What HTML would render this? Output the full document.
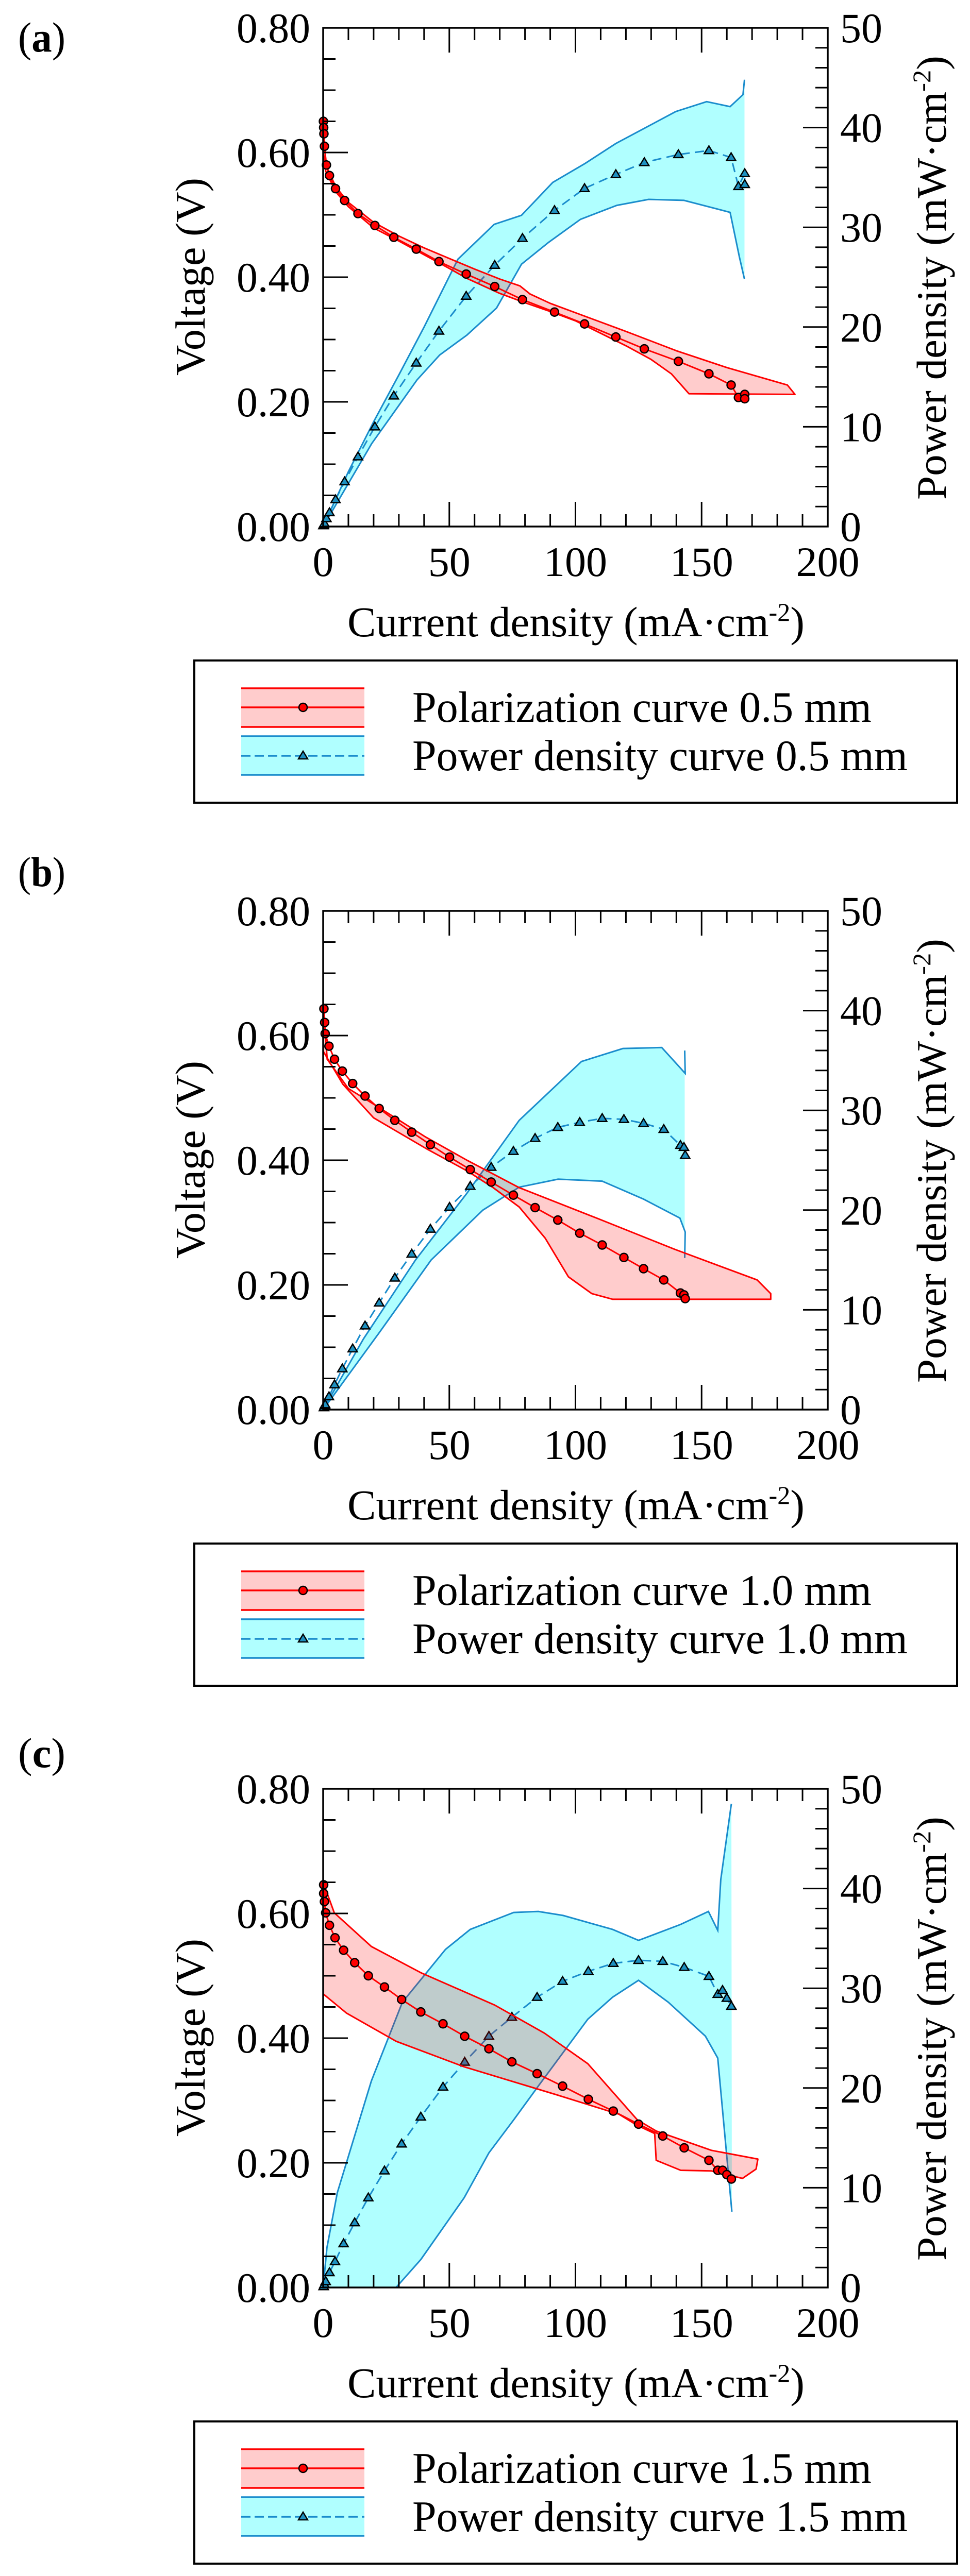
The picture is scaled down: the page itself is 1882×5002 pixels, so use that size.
<!DOCTYPE html>
<html><head><meta charset="utf-8"><style>
html,body{margin:0;padding:0;background:#fff;width:1882px;height:5002px;overflow:hidden;}
svg{display:block;position:absolute;left:0;top:0;}
</style></head><body>
<svg id="fig" xmlns="http://www.w3.org/2000/svg" width="1882" height="5002" viewBox="0 0 1882 5002"></svg>
<script>
// ---------- DATA (current mA/cm2, voltage V, power mW/cm2) ----------
const currentA=[0.1,0.2,0.3,0.5,1.3,2.5,4.9,8.5,13.8,20.5,28,36.9,45.9,56.7,68,79,91.7,103.6,116,127.3,140.8,152.9,161.7,164.6,167.1,167.1];
const voltageA=[0.65,0.64,0.63,0.61,0.58,0.563,0.542,0.523,0.502,0.483,0.464,0.445,0.425,0.405,0.385,0.364,0.344,0.325,0.304,0.285,0.265,0.245,0.227,0.207,0.212,0.205];
const powerA=[0.1,0.1,0.2,0.3,0.8,1.4,2.7,4.5,7.0,10.0,13.1,16.4,19.6,23.1,26.2,28.9,31.7,33.9,35.3,36.5,37.3,37.7,37.0,34.1,35.4,34.3];
const polUpperA=[[0,0.66],[1,0.58],[5,0.545],[10,0.52],[20,0.488],[30,0.466],[40,0.447],[50,0.43],[60,0.413],[70,0.397],[78,0.386],[82,0.373],[90,0.358],[100,0.343],[120,0.313],[140,0.282],[160,0.255],[184,0.227],[187,0.212]];
const polLowerA=[[0,0.6],[1,0.57],[5,0.537],[10,0.513],[20,0.479],[30,0.458],[40,0.436],[50,0.414],[57,0.398],[70,0.374],[80,0.359],[90,0.345],[100,0.33],[110,0.31],[120,0.29],[130,0.268],[138,0.245],[145,0.213],[187,0.212]];
const powUpperA=[[0,0],[10,5.5],[20,10.5],[30,15.2],[40,20],[53.4,26.8],[67.8,30.3],[78.6,31.2],[91,34.5],[103.8,36.4],[116,38.4],[139.7,41.6],[152,42.6],[161.3,42.1],[166.4,43.3],[167,44.8]];
const powLowerA=[[0,0],[19.2,8.3],[37.2,14.7],[46.2,17.2],[57,19.2],[68.7,21.9],[78.6,26.3],[89.4,28.5],[102,30.8],[116.4,32.2],[129,32.8],[143,32.7],[161.3,31.5],[165,27],[167,24.8]];

const currentB=[0.3,0.6,0.8,2.3,4.5,7.6,11.7,16.6,22.2,28.4,35.1,42.5,50.1,58.3,66.6,75.4,84,93,101.7,110.6,119.2,127,135,141.6,143,143.5];
const voltageB=[0.643,0.621,0.603,0.583,0.562,0.543,0.523,0.503,0.483,0.464,0.445,0.425,0.405,0.385,0.365,0.344,0.324,0.304,0.283,0.264,0.244,0.226,0.208,0.187,0.184,0.178];
const powerB=[0.2,0.4,0.5,1.3,2.5,4.1,6.1,8.4,10.7,13.2,15.6,18.1,20.3,22.4,24.3,25.9,27.2,28.3,28.8,29.2,29.1,28.7,28.1,26.5,26.3,25.5];
const polUpperB=[[0,0.65],[1.6,0.562],[10,0.515],[20,0.49],[40.7,0.437],[57,0.4],[77.7,0.356],[108.5,0.307],[139.4,0.257],[172,0.208],[177.4,0.186]];
const polLowerB=[[0,0.575],[7.8,0.522],[20,0.468],[40.7,0.419],[57,0.383],[67.4,0.356],[77.7,0.325],[88,0.275],[97.2,0.213],[106.5,0.186],[114.7,0.177],[177.4,0.177]];
const powUpperB=[[0,0],[16,7.1],[36.6,15],[57,21.7],[77.7,29],[102.4,34.9],[118.8,36.2],[134.2,36.3],[141.4,34.3],[143.5,33.7],[143.3,36]];
const powLowerB=[[0,0],[22.2,7.7],[42.8,15],[63.3,20],[77.7,22.3],[93.1,23.1],[110.6,22.9],[127,21.1],[141.4,19.2],[143.5,17.8],[143.3,15.2]];

const currentC=[0.2,0.2,0.5,1,2.5,4.7,8.1,12.5,17.9,24.3,31.1,38.7,47.5,56.1,65.7,74.8,84.8,94.9,105.1,115,125,134.6,143.1,152.9,156.4,158.3,160,161.8];
const voltageC=[0.646,0.632,0.619,0.601,0.581,0.561,0.541,0.521,0.5,0.482,0.462,0.442,0.423,0.403,0.383,0.362,0.343,0.323,0.302,0.283,0.262,0.243,0.224,0.204,0.188,0.188,0.181,0.174];
const powerC=[0.1,0.1,0.3,0.6,1.5,2.6,4.4,6.5,9.0,11.7,14.4,17.1,20.1,22.6,25.2,27.1,29.1,30.7,31.7,32.5,32.8,32.7,32.1,31.2,29.4,29.8,29.0,28.2];
const polUpperC=[[0,0.65],[4.4,0.601],[19.1,0.547],[38.7,0.505],[68,0.453],[87.7,0.408],[104.9,0.359],[124.5,0.269],[132,0.251],[153.9,0.22],[172.3,0.206],[171.6,0.19]];
const polLowerC=[[0,0.471],[9.3,0.44],[28.9,0.395],[55.9,0.354],[92.6,0.309],[117.2,0.278],[124.5,0.26],[131.4,0.247],[132,0.204],[141.7,0.188],[153.9,0.187],[166.2,0.175]];
const powUpperC=[[0,0],[1.5,4],[5.6,9.5],[19.1,20.7],[31.4,28.6],[48.5,33.9],[58.3,35.9],[75.5,37.6],[85.3,37.7],[95.1,37.3],[114.7,35.9],[125,34.8],[141.7,36.4],[152.7,37.7],[156.4,35.8],[157.6,40.9],[161.8,48.5]];
const powLowerC=[[0,0],[28.9,0],[38.7,2.8],[55.9,9],[65.7,13.5],[75.5,16.8],[85.3,20.2],[104.9,26.9],[114.7,29.1],[125,30.8],[136.8,28.6],[151.5,25.2],[156.4,23],[162,7.6]];

const xTicks=[0,50,100,150,200];
const vTickLabels=["0.00","0.20","0.40","0.60","0.80"];
const pTickLabels=["0","10","20","30","40","50"];
const panelLabels=["a","b","c"];
const thicknesses=["0.5","1.0","1.5"];

const NS="http://www.w3.org/2000/svg";
const FONT="'Liberation Serif','Times New Roman',serif";
const svg=document.getElementById('fig');
function mk(tag,attrs,parent){const e=document.createElementNS(NS,tag);for(const k in attrs)e.setAttribute(k,attrs[k]);(parent||svg).appendChild(e);return e;}
function numLen(s){let n=0;for(const ch of String(s))n+=(ch==='.')?20:41;return n;}
// text placed at (x,y) baseline, anchor, rotation; scaled horizontally to target width
function txt(parent,html,x,y,size,anchor,target,rot){
 const t=mk('text',{x:0,y:0,'text-anchor':anchor||'start',style:`font-family:${FONT};font-size:${size}px;fill:#000`},parent);
 t.innerHTML=html;
 let sx=1;
 try{const w=t.getBBox().width;if(target&&w>0)sx=target/w;}catch(e){}
 t.setAttribute('transform',`translate(${x},${y}) rotate(${rot||0}) scale(${sx},1)`);
 return t;
}

const panels=[
 {cur:currentA,vol:voltageA,pow:powerA,pu:polUpperA,pl:polLowerA,wu:powUpperA,wl:powLowerA,oy:0,labelY:100},
 {cur:currentB,vol:voltageB,pow:powerB,pu:polUpperB,pl:polLowerB,wu:powUpperB,wl:powLowerB,oy:1714,labelY:1720},
 {cur:currentC,vol:voltageC,pow:powerC,pu:polUpperC,pl:polLowerC,wu:powUpperC,wl:powLowerC,oy:3418,labelY:3430}
];
const L=627,R=1606,T0=54,B0=1022;
const SUP='<tspan dy="-30" style="font-size:50px">-2</tspan><tspan dy="30">)</tspan>';

panels.forEach((p,idx)=>{
 const T=T0+p.oy,B=B0+p.oy;
 const xs=i=>L+i*(R-L)/200;
 const yv=v=>B-v*(B-T)/0.8;
 const yp=w=>B-w*(B-T)/50;
 const g=mk('g',{});
 
 
 const lab=txt(g,'(<tspan style="font-weight:bold">'+panelLabels[idx]+'</tspan>)',35,p.labelY,82,'start',92,0);
 
 
 // power band
 const wpts=p.wu.map(d=>xs(d[0])+','+yp(d[1])).concat(p.wl.slice().reverse().map(d=>xs(d[0])+','+yp(d[1])));
 const wb=mk('polygon',{points:wpts.join(' '),fill:'#b0ffff',stroke:'none'},g);
 
 
 [p.wu,p.wl].forEach((arr,k)=>{
  const l=mk('polyline',{points:arr.map(d=>xs(d[0])+','+yp(d[1])).join(' '),fill:'none',stroke:'#1a8ccc','stroke-width':3},g);
  
  
 });
 const pl=mk('polyline',{points:p.cur.map((c,i)=>xs(c)+','+yp(p.pow[i])).join(' '),fill:'none',stroke:'#1a8ccc','stroke-width':3,'stroke-dasharray':'18,10'},g);
 
 
 p.cur.forEach((c,i)=>{
  const x=xs(c),y=yp(p.pow[i]);
  const t=mk('polygon',{points:`${x},${y-9} ${x-9},${y+6} ${x+9},${y+6}`,fill:'#1e90c0',stroke:'#000','stroke-width':2.5},g);
  
  
 });
 // polarization band
 const ppts=p.pu.map(d=>xs(d[0])+','+yv(d[1])).concat(p.pl.slice().reverse().map(d=>xs(d[0])+','+yv(d[1])));
 const pb=mk('polygon',{points:ppts.join(' '),fill:'rgba(255,0,0,0.2)',stroke:'#ff0000','stroke-width':3,'stroke-linejoin':'round'},g);
 
 
 const vl=mk('polyline',{points:p.cur.map((c,i)=>xs(c)+','+yv(p.vol[i])).join(' '),fill:'none',stroke:'#ff0000','stroke-width':3},g);
 
 
 p.cur.forEach((c,i)=>{
  const ci=mk('circle',{cx:xs(c),cy:yv(p.vol[i]),r:8,fill:'#ff0000',stroke:'#000','stroke-width':2.5},g);
  
  
 });
 // frame
 const fr=mk('rect',{x:L,y:T,width:R-L,height:B-T,fill:'none',stroke:'#000','stroke-width':3.5},g);
 
 
 let d='';
 for(let v=0;v<=200;v+=10){const x=xs(v),len=(v%50===0)?48:24;d+=`M${x},${B}v${-len}M${x},${T}v${len}`;}
 for(let k=0;k<=16;k++){const y=yv(k*0.05),len=(k%4===0)?48:24;d+=`M${L},${y}h${len}`;}
 for(let w=0;w<=50;w+=2){const y=yp(w),len=(w%10===0)?48:24;d+=`M${R},${y}h${-len}`;}
 const tk=mk('path',{d:d,stroke:'#000','stroke-width':3,fill:'none'},g);
 
 
 xTicks.forEach(v=>{const t=txt(g,String(v),xs(v),B+96,82,'middle',numLen(v),0);
  
  });
 vTickLabels.forEach((s,k)=>{const t=txt(g,s,602,yv(k*0.2)+28,82,'end',numLen(s),0);
  
  });
 pTickLabels.forEach((s,k)=>{const t=txt(g,s,1630,yp(k*10)+28,82,'start',numLen(s),0);
  
  });
 const xt=txt(g,'Current density (mA·cm'+SUP,674,B+213,83,'start',887,0);
 
 
 const yt=txt(g,'Voltage (V)',397,T+483,82,'middle',384,-90);
 
 
 const rt=txt(g,'Power density (mW·cm'+SUP,1835,T+916,82,'start',862,-90);
 
 
 // legend
 const LT=1282+p.oy;
 const lg=mk('g',{},g);
 
 
 const lb=mk('rect',{x:377,y:LT,width:1480,height:276,fill:'#fff',stroke:'#000','stroke-width':4},lg);
 
 
 const r1=mk('g',{},lg);
 
 
 mk('rect',{x:468,y:LT+54,width:239,height:75,fill:'#ffcccc'},r1);
 mk('path',{d:`M468,${LT+54}h239M468,${LT+91}h239M468,${LT+129}h239`,stroke:'#ff0000','stroke-width':3.5},r1);
 mk('circle',{cx:588,cy:LT+91,r:8,fill:'#ff0000',stroke:'#000','stroke-width':2.5},r1);
 txt(r1,'Polarization curve '+thicknesses[idx]+' mm',800,LT+119,85,'start',891,0);
 const r2=mk('g',{},lg);
 
 
 mk('rect',{x:468,y:LT+147,width:239,height:75,fill:'#b0ffff'},r2);
 mk('path',{d:`M468,${LT+147}h239M468,${LT+222}h239`,stroke:'#1a8ccc','stroke-width':3.5},r2);
 mk('path',{d:`M468,${LT+185}h239`,stroke:'#1a8ccc','stroke-width':3.5,'stroke-dasharray':'18,8'},r2);
 mk('polygon',{points:`588,${LT+176} 579,${LT+191} 597,${LT+191}`,fill:'#1e90c0',stroke:'#000','stroke-width':2.5},r2);
 txt(r2,'Power density curve '+thicknesses[idx]+' mm',800,LT+213,85,'start',961,0);
});
</script>
</body></html>
